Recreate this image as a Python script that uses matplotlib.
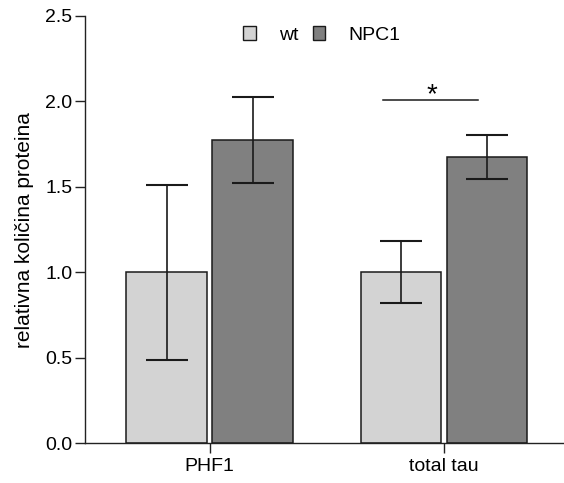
import matplotlib
matplotlib.use("Agg")
import matplotlib.pyplot as plt
import numpy as np
from matplotlib.patches import Rectangle

categories = ["PHF1", "total tau"]
series_names = ["wt", "NPC1"]
wt_values = [1.0, 1.0]
wt_errors = [0.513, 0.182]
npc1_values = [1.775, 1.673]
npc1_errors = [0.252, 0.129]
y_ticks = [0.0, 0.5, 1.0, 1.5, 2.0, 2.5]
sig_label = "*"
sig_level = 2.011
sig_span = (0.740, 1.147)

plt.rcParams['font.family'] = ['Liberation Sans', 'DejaVu Sans']

fig = plt.figure(figsize=(5.64, 4.83), dpi=100)
ax = fig.add_axes([0.1507, 0.0822, 0.8493, 0.8847])

x = np.arange(len(categories))
w = 0.344
off = 0.183
c_wt = "#d3d3d3"
c_npc = "#808080"
ec = "#1a1a1a"

ax.bar(x - off, wt_values, width=w, color=c_wt, edgecolor=ec, linewidth=1.1, zorder=2)
ax.bar(x + off, npc1_values, width=w, color=c_npc, edgecolor=ec, linewidth=1.1, zorder=2)
ax.errorbar(x - off, wt_values, yerr=wt_errors, fmt="none", ecolor=ec, elinewidth=1.2,
            capsize=15, capthick=1.5, zorder=3)
ax.errorbar(x + off, npc1_values, yerr=npc1_errors, fmt="none", ecolor=ec, elinewidth=1.2,
            capsize=15, capthick=1.5, zorder=3)

# significance
ax.plot(list(sig_span), [sig_level, sig_level], color=ec, lw=1.1)
ax.text(0.947, 1.997, sig_label, ha="center", va="baseline", fontsize=20)

ax.set_xlim(-0.532, 1.512)
ax.set_ylim(0, 2.5)
ax.set_yticks(y_ticks)
ax.set_yticklabels([f"{t:.1f}" for t in y_ticks])
ax.set_xticks(x)
ax.set_xticklabels(categories)
ax.tick_params(axis="y", length=7.2, width=1.0, color="#222222", labelsize=14, pad=2)
ax.tick_params(axis="x", length=7.2, width=1.0, color="#222222", labelsize=14, pad=3.6)
for s in ["top", "right"]:
    ax.spines[s].set_visible(False)
for s in ["left", "bottom"]:
    ax.spines[s].set_color("#222222")
    ax.spines[s].set_linewidth(1.0)
ax.set_ylabel("relativna količina proteina", fontsize=15, labelpad=8)

# legend
handles = [Rectangle((0, 0), 1, 1, facecolor=c_wt, edgecolor=ec, linewidth=1.0),
           Rectangle((0, 0), 1, 1, facecolor=c_npc, edgecolor=ec, linewidth=1.0)]
leg = ax.legend(handles, series_names, loc="center left",
                bbox_to_anchor=(243.3 / 564, 1 - 35 / 483), bbox_transform=fig.transFigure,
                ncol=2, frameon=False, fontsize=14, handlelength=0.64, handleheight=0.69,
                handletextpad=1.2, columnspacing=0.74, borderpad=0, borderaxespad=0)

fig.savefig("out.png", dpi=100)
